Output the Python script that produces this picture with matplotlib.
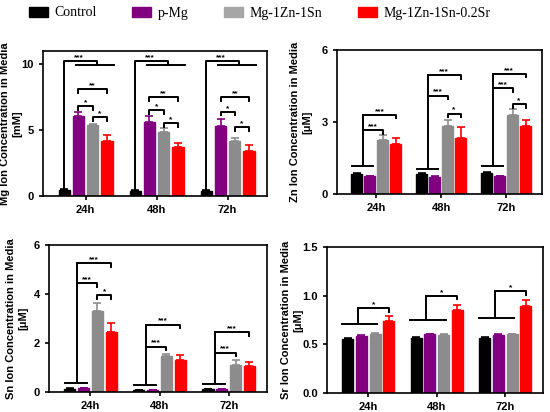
import numpy as np
import matplotlib
matplotlib.use("Agg")
import matplotlib.pyplot as plt
from matplotlib.patches import Patch

groups = ["24h", "48h", "72h"]
series = ["Control", "p-Mg", "Mg-1Zn-1Sn", "Mg-1Zn-1Sn-0.2Sr"]
colors = ["#000000", "#800080", "#8c8c8c", "#ff0000"]
legend_colors = ["#000000", "#800080", "#a6a6a6", "#ff0000"]

mg_vals = [[0.5, 0.4, 0.4], [6.1, 5.6, 5.35], [5.4, 4.9, 4.15], [4.2, 3.7, 3.45]]
mg_err = [[0.05, 0.03, 0.03], [0.25, 0.45, 0.5], [0.1, 0.3, 0.25], [0.4, 0.3, 0.45]]
zn_vals = [[0.85, 0.85, 0.88], [0.75, 0.72, 0.75], [2.25, 2.85, 3.3], [2.1, 2.35, 2.85]]
zn_err = [[0.03, 0.03, 0.03], [0.02, 0.02, 0.02], [0.2, 0.25, 0.25], [0.25, 0.45, 0.25]]
sn_vals = [[0.13, 0.07, 0.1], [0.15, 0.07, 0.1], [3.3, 1.45, 1.1], [2.45, 1.3, 1.05]]
sn_err = [[0.02, 0.02, 0.02], [0.02, 0.02, 0.02], [0.35, 0.1, 0.2], [0.35, 0.2, 0.15]]
sr_vals = [[0.56, 0.57, 0.57], [0.59, 0.605, 0.60], [0.61, 0.60, 0.605], [0.74, 0.85, 0.90]]
sr_err = [[0.005, 0.005, 0.005], [0.005, 0.005, 0.005], [0.005, 0.005, 0.005], [0.05, 0.06, 0.055]]

# bracket heights
mg_top = [(10.25, 9.95), (10.25, 9.95), (10.25, 9.95)]
mg_pairs = [[(1, 3, 8.1, "**"), (1, 2, 6.8, "*"), (2, 3, 6.0, "*")],
            [(1, 3, 7.5, "**"), (1, 2, 6.5, "*"), (2, 3, 5.55, "*")],
            [(1, 3, 7.5, "**"), (1, 2, 6.4, "*"), (2, 3, 5.25, "*")]]
zn_base = [1.15, 1.05, 1.15]
zn_arms = [[(3, 3.3, "***"), (2, 2.65, "***")],
           [(3, 4.95, "***"), (2, 4.1, "***")],
           [(3, 5.0, "***"), (2, 4.4, "***")]]
zn_pairs = [[], [(2, 3, 3.35, "*")], [(2, 3, 3.75, "*")]]
sn_base = [0.35, 0.28, 0.3]
sn_arms = [[(3, 5.25, "***"), (2, 4.45, "***")],
           [(3, 2.75, "***"), (2, 1.85, "***")],
           [(3, 2.45, "***"), (2, 1.6, "***")]]
sn_pairs = [[(2, 3, 3.95, "*")], [], []]
sr_base = [0.71, 0.75, 0.77]
sr_arms = [[(3, 0.87, "*")], [(3, 1.0, "*")], [(3, 1.05, "*")]]

offsets = [-0.3, -0.1, 0.1, 0.3]
width = 0.16
x = np.arange(len(groups))

plt.rcParams["font.family"] = "Liberation Sans"
plt.rcParams["font.weight"] = "bold"


def bars(ax, vals, err, ymax, ticks, ylabel, labx):
    for i in range(4):
        ax.bar(x + offsets[i], vals[i], width, color=colors[i], edgecolor=colors[i])
        ax.errorbar(x + offsets[i], vals[i], yerr=[np.zeros(3), err[i]], fmt="none",
                    ecolor=colors[i], elinewidth=1.2, capsize=3, capthick=1.2)
    ax.set_xlim(-0.6, 2.55)
    ax.set_ylim(0, ymax)
    ax.set_yticks(ticks)
    ax.set_xticks(x)
    ax.set_xticklabels(groups)
    ax.set_ylabel(ylabel, fontsize=8, fontweight="bold", linespacing=1.3)
    ax.yaxis.set_label_coords(labx, 0.5)
    ax.tick_params(labelsize=8, width=1.2, length=3)
    for lab in ax.get_xticklabels() + ax.get_yticklabels():
        lab.set_fontweight("bold")
    for s in ax.spines.values():
        s.set_linewidth(1.2)


def pair(ax, g, a, b, y, txt, ymax):
    t = ymax * 0.025
    xa, xb = g + offsets[a], g + offsets[b]
    ax.plot([xa, xa, xb, xb], [y - t, y, y, y - t], color="black", lw=1.4)
    ax.text((xa + xb) / 2, y, txt, ha="center", va="bottom", fontsize=6, fontweight="bold")


def arms(ax, g, base, arm_list, ymax, base_span=(-0.37, -0.05), stem=-0.2):
    t = ymax * 0.025
    ax.plot([g + base_span[0], g + base_span[1]], [base, base], color="black", lw=1.4)
    top = max(a[1] for a in arm_list)
    ax.plot([g + stem, g + stem], [base, top], color="black", lw=1.4)
    for b, y, txt in arm_list:
        xb = g + offsets[b]
        ax.plot([g + stem, xb, xb], [y, y, y - t], color="black", lw=1.4)
        ax.text((g + stem + xb) / 2, y, txt, ha="center", va="bottom", fontsize=6, fontweight="bold")


fig = plt.figure(figsize=(5.5, 4.12), dpi=100)
ax1 = fig.add_axes([0.078, 0.524, 0.407, 0.352])
ax2 = fig.add_axes([0.613, 0.529, 0.372, 0.350])
ax3 = fig.add_axes([0.089, 0.049, 0.396, 0.356])
ax4 = fig.add_axes([0.595, 0.046, 0.392, 0.354])

bars(ax1, mg_vals, mg_err, 11, [0, 5, 10], "Mg Ion Concentration in Media\n[mM]", -0.09)
bars(ax2, zn_vals, zn_err, 6, [0, 3, 6], "Zn Ion Concentration in Media\n[\u03bcM]", -0.122)
bars(ax3, sn_vals, sn_err, 6, [0, 2, 4, 6], "Sn Ion Concentration in Media\n[\u03bcM]", -0.096)
bars(ax4, sr_vals, sr_err, 1.5, [0.0, 0.5, 1.0, 1.5], "Sr Ion Concentration in Media\n[\u03bcM]", -0.111)
ax4.set_yticklabels(["0.0", "0.5", "1.0", "1.5"])
for lab in ax4.get_yticklabels():
    lab.set_fontweight("bold")

for g in range(3):
    # Mg: control vs all others
    hi, lo = mg_top[g]
    xc = g + offsets[0]
    ax1.plot([xc, xc, g + 0.16, g + 0.16], [mg_vals[0][g] + mg_err[0][g], hi, hi, lo],
             color="black", lw=1.4)
    ax1.plot([g - 0.13, g + 0.4], [lo, lo], color="black", lw=1.4)
    ax1.text(g - 0.1, hi, "***", ha="center", va="bottom", fontsize=6, fontweight="bold")
    for a, b, y, txt in mg_pairs[g]:
        pair(ax1, g, a, b, y, txt, 11)

    arms(ax2, g, zn_base[g], zn_arms[g], 6)
    for a, b, y, txt in zn_pairs[g]:
        pair(ax2, g, a, b, y, txt, 6)

    arms(ax3, g, sn_base[g], sn_arms[g], 6)
    for a, b, y, txt in sn_pairs[g]:
        pair(ax3, g, a, b, y, txt, 6)

    arms(ax4, g, sr_base[g], sr_arms[g], 1.5, base_span=(-0.39, 0.13), stem=-0.15)

handles = [Patch(facecolor=c, edgecolor=c) for c in legend_colors]
fig.legend(handles, series, loc="center", bbox_to_anchor=(259.5 / 550, 1 - 13 / 412), ncol=4,
           frameon=False, prop={"family": "Liberation Serif", "size": 10, "weight": "normal"},
           handlelength=1.37, handleheight=0.75, columnspacing=2.6, handletextpad=0.43,
           borderpad=0, borderaxespad=0)

fig.savefig("out.png", dpi=100)
